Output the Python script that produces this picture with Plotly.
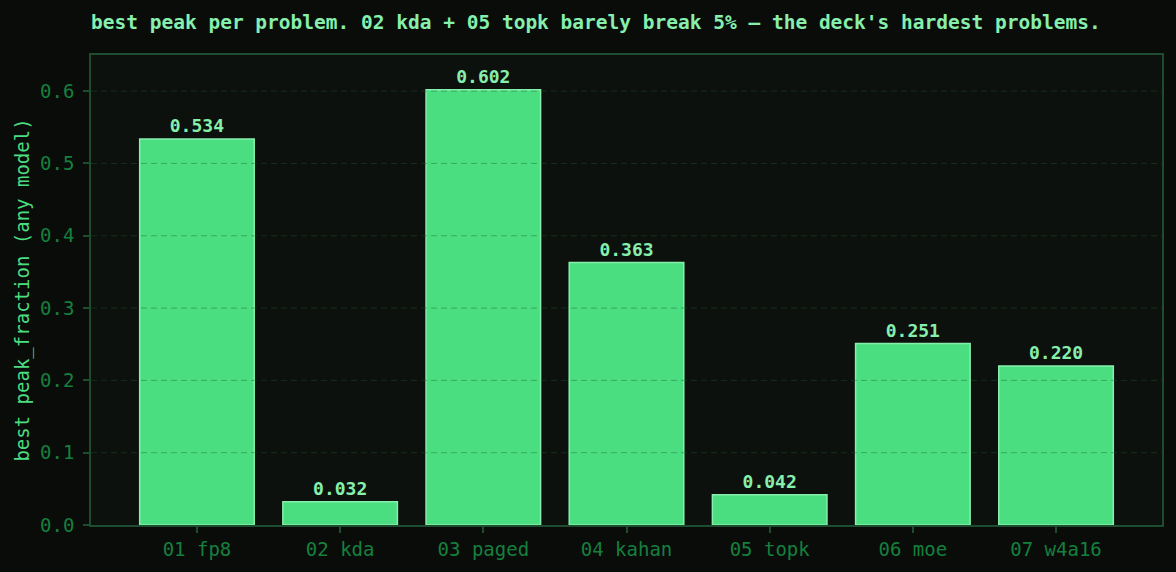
import plotly.graph_objects as go

problems = ["01 fp8", "02 kda", "03 paged", "04 kahan", "05 topk", "06 moe", "07 w4a16"]
best_peak = [0.534, 0.032, 0.602, 0.363, 0.042, 0.251, 0.220]
y_ticks = [0.0, 0.1, 0.2, 0.3, 0.4, 0.5, 0.6]

FONT = "DejaVu Sans Mono"
BG = "#0a0c0a"
PANEL = "#0d110e"
BAR = "#4ade80"
EDGE = "#86efac"
SPINE = "#1b4d2e"
TICK = "#15803d"
GRID = "rgba(30,89,50,0.4)"

fig = go.Figure()

fig.add_trace(go.Bar(
    x=problems, y=best_peak,
    marker=dict(color=BAR, line=dict(color=EDGE, width=1.5)),
    texttemplate="%{y:.3f}",
    textposition="outside",
    textfont=dict(family=FONT, size=18, color=EDGE, weight="bold"),
    cliponaxis=False,
    hoverinfo="skip",
))

# grid drawn on top of the bars (like the original), one line per y tick
for t in y_ticks[1:]:
    fig.add_shape(
        type="line", xref="paper", yref="y",
        x0=0, x1=1, y0=t, y1=t,
        line=dict(color=GRID, width=1, dash="6px,4px"),
        layer="above",
    )

fig.update_layout(
    width=1176, height=572,
    margin=dict(l=91, r=14, t=55, b=47),
    paper_bgcolor=BG,
    plot_bgcolor=PANEL,
    bargap=0.2,
    showlegend=False,
    font=dict(family=FONT),
    title=dict(
        text="<b>best peak per problem. 02 kda + 05 topk barely break 5% — the deck's hardest problems.</b>",
        x=91 / 1176, xanchor="left",
        y=1 - 22 / 572, yanchor="middle",
        font=dict(family=FONT, size=19.5, color=EDGE),
    ),
)

fig.update_xaxes(
    range=[-0.74, 6.74],
    showgrid=False,
    showline=True, mirror=True, linecolor=SPINE, linewidth=1.5,
    ticks="outside", ticklen=6, tickcolor=SPINE, tickwidth=1.5,
    tickfont=dict(family=FONT, size=19, color=TICK),
    layer="above traces",
)

fig.update_yaxes(
    range=[0, 0.65],
    tickvals=y_ticks, tickformat=".1f",
    showgrid=False,
    zeroline=False,
    showline=True, mirror=True, linecolor=SPINE, linewidth=1.5,
    ticks="outside", ticklen=6, tickcolor=SPINE, tickwidth=1.5,
    ticklabelstandoff=5,
    tickfont=dict(family=FONT, size=19, color=TICK),
    title=dict(text="best peak_fraction (any model)", font=dict(family=FONT, size=19, color=BAR), standoff=5),
    layer="above traces",
)

# page margin off so the figure sits at the window origin
fig.write_html(
    "out.html",
    config={"displayModeBar": False},
    post_script="document.body.style.margin='0';document.body.style.background='#0a0c0a';",
)
